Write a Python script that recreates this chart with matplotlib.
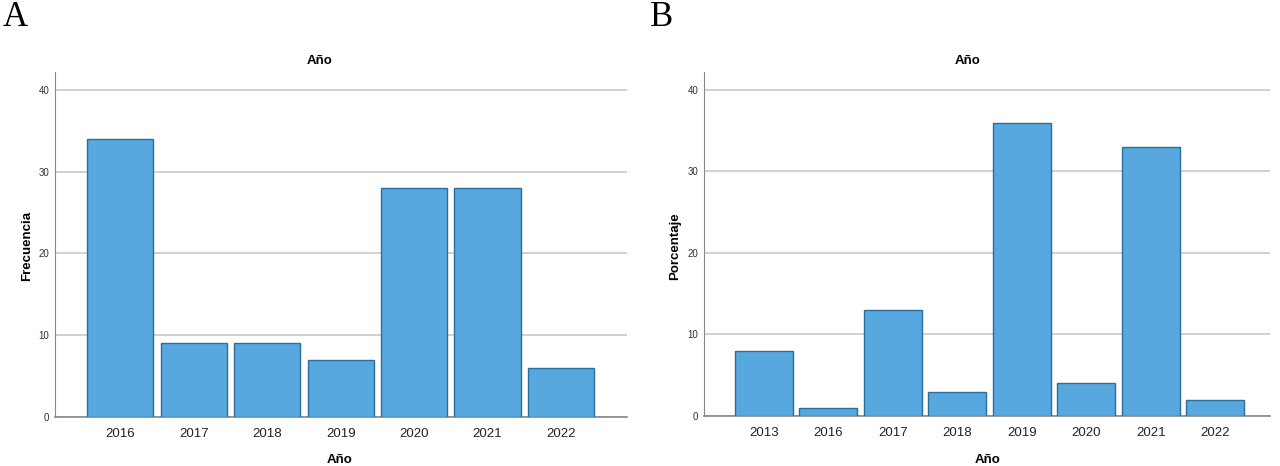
import matplotlib.pyplot as plt

# Panel A: frecuencia por año
years_a = ['2016', '2017', '2018', '2019', '2020', '2021', '2022']
freq_a = [34, 9, 9, 7, 28, 28, 6]

# Panel B: porcentaje por año
years_b = ['2013', '2016', '2017', '2018', '2019', '2020', '2021', '2022']
pct_b = [8, 1, 13, 3, 36, 4, 33, 2]

yticks = [0, 10, 20, 30, 40]

bar_color = '#56A8DE'
edge_color = '#2C6E9E'
grid_color = '#C9C9C9'

fig = plt.figure(figsize=(12.8, 4.66), dpi=100)


def draw_panel(rect, cats, vals, ylabel, xlim, letter, letter_x, title_x, xlabel_x, ylabel_x):
    ax = fig.add_axes(rect)
    idx = range(len(cats))
    ax.bar(idx, vals, 0.9, color=bar_color, edgecolor=edge_color, linewidth=1.0, zorder=3)
    ax.set_xlim(*xlim)
    ax.set_ylim(0, 42.2)
    ax.set_yticks(yticks)
    ax.set_yticklabels([str(t) for t in yticks], fontsize=7, family='Liberation Sans',
                       color='#333333')
    ax.set_xticks(list(idx))
    ax.set_xticklabels(cats, fontsize=9.5, family='Liberation Sans', color='#222222')
    ax.tick_params(axis='both', length=0)
    ax.tick_params(axis='y', pad=4)
    ax.tick_params(axis='x', pad=8)
    ax.yaxis.grid(True, color=grid_color, linewidth=1.2, zorder=0)
    ax.spines['top'].set_visible(False)
    ax.spines['right'].set_visible(False)
    ax.spines['left'].set_color('#888888')
    ax.spines['bottom'].set_color('#888888')
    ax.spines['bottom'].set_linewidth(1.2)
    fig.text(ylabel_x, 1 - 246 / 466, ylabel, rotation=90, ha='center', va='center',
             fontsize=9.5, fontweight='bold', family='Liberation Sans')
    fig.text(title_x, 1 - 61 / 466, 'Año', ha='center', va='center',
             fontsize=9.5, fontweight='bold', family='Liberation Sans')
    fig.text(xlabel_x, 1 - 460 / 466, 'Año', ha='center', va='center',
             fontsize=9.5, fontweight='bold', family='Liberation Sans')
    fig.text(letter_x, 1 - 18 / 466, letter, ha='center', va='center',
             fontsize=25, family='Liberation Serif')
    return ax


draw_panel([55 / 1280, 1 - 417 / 466, (627 - 55) / 1280, (417 - 72) / 466],
           years_a, freq_a, 'Frecuencia', (-0.89, 6.9), 'A',
           15 / 1280, 320 / 1280, 340 / 1280, 27 / 1280)
draw_panel([704 / 1280, 1 - 416 / 466, (1270 - 704) / 1280, (416 - 72) / 466],
           years_b, pct_b, 'Porcentaje', (-0.93, 7.85), 'B',
           662 / 1280, 968 / 1280, 988 / 1280, 675 / 1280)

plt.savefig('out.png', dpi=100)
